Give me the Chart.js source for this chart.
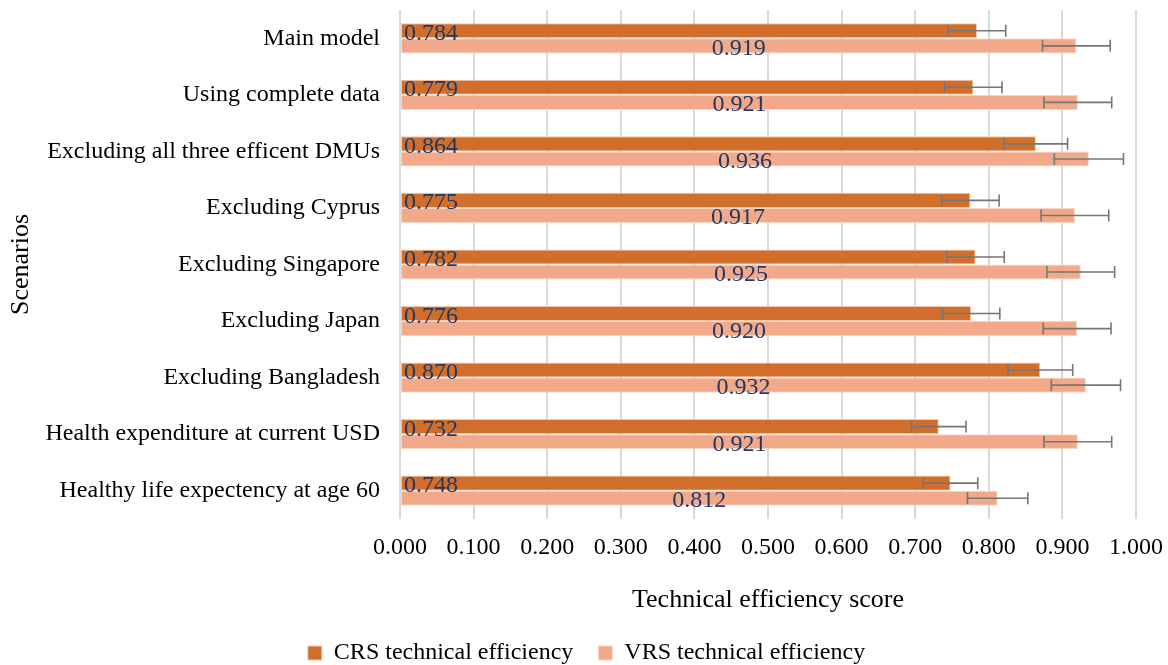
<!DOCTYPE html>
<html>
<head>
<meta charset="utf-8">
<script src="https://cdn.jsdelivr.net/npm/chart.js@4.4.1/dist/chart.umd.min.js"></script>
<style>
  html, body { margin: 0; padding: 0; background: #ffffff; }
  #wrap { width: 1168px; height: 665px; }
</style>
</head>
<body>
<div id="wrap"><canvas id="c" width="1168" height="665"></canvas></div>
<script>
const categories = [
  "Main model",
  "Using complete data",
  "Excluding all three efficent DMUs",
  "Excluding Cyprus",
  "Excluding Singapore",
  "Excluding Japan",
  "Excluding Bangladesh",
  "Health expenditure at current USD",
  "Healthy life expectency at age 60"
];
const crsValues = [0.784, 0.779, 0.864, 0.775, 0.782, 0.776, 0.870, 0.732, 0.748];
const vrsValues = [0.919, 0.921, 0.936, 0.917, 0.925, 0.920, 0.932, 0.921, 0.812];
const crsErrors = [0.039, 0.039, 0.043, 0.039, 0.039, 0.039, 0.044, 0.037, 0.037];
const vrsErrors = [0.046, 0.046, 0.047, 0.046, 0.046, 0.046, 0.047, 0.046, 0.041];
const seriesNames = ["CRS technical efficiency", "VRS technical efficiency"];
const xTickValues = [0, 0.1, 0.2, 0.3, 0.4, 0.5, 0.6, 0.7, 0.8, 0.9, 1.0];

const FONT = "'Liberation Serif', 'Times New Roman', serif";
const errorsByDataset = [crsErrors, vrsErrors];

const errorBarPlugin = {
  id: 'errorBars',
  afterDatasetsDraw(chart) {
    const ctx = chart.ctx;
    const xs = chart.scales.x;
    ctx.save();
    ctx.strokeStyle = '#767676';
    ctx.lineWidth = 1.6;
    chart.data.datasets.forEach((ds, di) => {
      const meta = chart.getDatasetMeta(di);
      meta.data.forEach((el, i) => {
        const v = ds.data[i];
        const e = errorsByDataset[di][i];
        const x1 = xs.getPixelForValue(v - e);
        const x2 = xs.getPixelForValue(v + e);
        const y = el.y;
        const cap = 6;
        ctx.beginPath();
        ctx.moveTo(x1, y); ctx.lineTo(x2, y);
        ctx.moveTo(x1, y - cap); ctx.lineTo(x1, y + cap);
        ctx.moveTo(x2, y - cap); ctx.lineTo(x2, y + cap);
        ctx.stroke();
      });
    });
    ctx.restore();
  }
};

const labelPlugin = {
  id: 'valueLabels',
  afterDatasetsDraw(chart) {
    const ctx = chart.ctx;
    ctx.save();
    ctx.font = "24px " + FONT;
    ctx.fillStyle = '#1F3864';
    ctx.textBaseline = 'alphabetic';
    chart.data.datasets.forEach((ds, di) => {
      const meta = chart.getDatasetMeta(di);
      meta.data.forEach((el, i) => {
        const txt = ds.data[i].toFixed(3);
        if (di === 0) {
          ctx.textAlign = 'left';
          ctx.fillText(txt, el.base + 3, el.y + 9);
        } else {
          ctx.textAlign = 'center';
          ctx.fillText(txt, (el.base + el.x) / 2, el.y + 9);
        }
      });
    });
    ctx.restore();
  }
};

new Chart(document.getElementById('c'), {
  type: 'bar',
  data: {
    labels: categories,
    datasets: [
      {
        label: seriesNames[0],
        data: crsValues,
        backgroundColor: '#D26E2C',
        borderColor: '#F2C8AE',
        borderWidth: 1,
        borderSkipped: false,
        barPercentage: 1.0,
        categoryPercentage: 0.534
      },
      {
        label: seriesNames[1],
        data: vrsValues,
        backgroundColor: '#F1A98A',
        borderColor: '#F8D6C7',
        borderWidth: 1,
        borderSkipped: false,
        barPercentage: 1.0,
        categoryPercentage: 0.534
      }
    ]
  },
  options: {
    indexAxis: 'y',
    responsive: false,
    animation: false,
    devicePixelRatio: 1,
    layout: { padding: { left: 5, right: 0, top: 10, bottom: -10 } },
    plugins: {
      legend: {
        position: 'bottom',
        labels: {
          font: { family: FONT, size: 24 },
          color: '#000000',
          boxWidth: 14,
          boxHeight: 14,
          padding: 25
        }
      },
      tooltip: { enabled: false }
    },
    scales: {
      x: {
        min: 0,
        max: 1,
        afterBuildTicks(scale) {
          scale.ticks = xTickValues.map(v => ({ value: v }));
        },
        afterFit(scale) {
          scale.height = 97;
          scale.paddingRight = 32;
          scale.paddingLeft = 0;
        },
        ticks: {
          font: { family: FONT, size: 24 },
          color: '#000000',
          padding: 14,
          maxRotation: 0,
          callback: (v) => Number(v).toFixed(3)
        },
        grid: { color: '#D9D9D9', lineWidth: 2, drawTicks: false },
        border: { display: false },
        title: {
          display: true,
          text: 'Technical efficiency score',
          font: { family: FONT, size: 26 },
          color: '#000000',
          padding: { top: 0, bottom: 0 }
        }
      },
      y: {
        afterFit(scale) {
          scale.width = 395;
          scale.paddingTop = 0;
          scale.paddingBottom = 0;
        },
        ticks: {
          font: { family: FONT, size: 24 },
          color: '#000000',
          padding: 20
        },
        grid: { display: false, drawTicks: false },
        border: { display: false },
        title: {
          display: true,
          text: 'Scenarios',
          font: { family: FONT, size: 26 },
          color: '#000000',
          padding: { top: 1, bottom: 0 }
        }
      }
    }
  },
  plugins: [labelPlugin, errorBarPlugin]
});
</script>
</body>
</html>
